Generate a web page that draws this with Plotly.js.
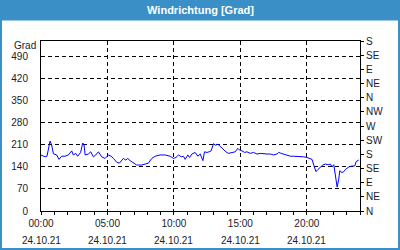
<!DOCTYPE html>
<html><head><meta charset="utf-8">
<script src="https://cdn.plot.ly/plotly-3.0.1.min.js"></script>
<style>html,body{margin:0;padding:0;background:#fff;}#chart{width:400px;height:250px;}</style>
</head><body><div id="chart"></div>
<script>
// hours since 00:00 on 24.10.21
const hours = [0.00,0.30,0.45,0.68,0.80,0.93,1.18,1.36,1.55,1.81,2.06,2.31,2.43,2.61,2.76,2.98,3.14,3.24,3.32,3.56,3.74,3.94,4.12,4.32,4.57,4.82,5.07,5.27,5.45,5.70,5.90,6.03,6.20,6.38,6.53,6.70,6.95,7.20,7.58,7.83,8.08,8.33,8.59,8.96,9.34,9.72,9.97,10.15,10.35,10.55,10.72,10.85,11.05,11.18,11.35,11.60,11.80,11.98,12.10,12.18,12.30,12.48,12.65,12.80,12.98,13.11,13.31,13.48,13.73,13.91,14.11,14.36,14.61,14.81,14.92,15.12,15.32,15.49,15.74,15.99,16.25,16.50,16.75,17.00,17.25,17.50,17.75,17.88,18.08,18.26,18.51,18.76,19.01,19.26,19.51,19.76,20.02,20.19,20.39,20.52,20.69,20.84,21.02,21.20,21.40,21.60,21.77,21.90,22.03,22.15,22.28,22.40,22.48,22.65,22.78,22.91,23.16,23.41,23.61,23.71,23.91];
const direction = [178,172,174,222,210,182,178,164,174,174,178,191,178,183,174,186,216,210,178,181,188,172,178,188,172,167,178,174,167,155,152,160,167,162,167,160,152,146,146,149,152,167,174,178,178,174,167,170,178,172,174,164,178,170,181,186,174,181,164,160,188,186,188,191,214,209,212,205,195,188,183,186,188,199,194,191,186,188,183,186,181,183,181,181,181,178,181,186,183,181,178,174,174,174,172,172,170,167,164,146,125,132,140,146,149,147,149,140,147,110,76,101,128,122,125,132,140,143,143,157,162];

const xTickVals = [0,5,10,15,20];
const xTickTime = ["00:00","05:00","10:00","15:00","20:00"];
const xTickDate = ["24.10.21","24.10.21","24.10.21","24.10.21","24.10.21"];
const yTickVals = [0,70,140,210,280,350,420,490];
const compassVals = [0,45,90,135,180,225,270,315,360,405,450,495,540];
const compassText = ["N","NE","E","SE","S","SW","W","NW","N","NE","E","SE","S"];

const FONT = "Liberation Sans, Arial, sans-serif";
const TXT = "#1a1a2a";
const BLUE = "#3a8fc7";

// pixel -> paper helpers (plot area: x 41..360, y 41..211)
const px = p => (p - 41) / 319;
const py = p => (211 - p) / 170;

const annotations = xTickVals.map((v, i) => ({
  x: v, xref: "x", y: py(240), yref: "paper", text: xTickDate[i],
  showarrow: false, font: {family: FONT, size: 10, color: TXT}, xanchor: "center", yanchor: "middle"
}));
annotations.push({x: px(38), xref: "paper", y: py(45), yref: "paper", text: "Grad", showarrow: false,
  font: {family: FONT, size: 10, color: TXT}, xanchor: "right", yanchor: "middle"});

const traces = [
  {x: hours, y: direction, type: "scatter", mode: "lines", line: {color: "#0000ff", width: 1}, hoverinfo: "skip", xaxis: "x", yaxis: "y"},
  {x: [0], y: [0], type: "scatter", mode: "markers", marker: {opacity: 0}, xaxis: "x", yaxis: "y2", hoverinfo: "skip"}
];

const layout = {
  width: 400, height: 250,
  margin: {l: 41, r: 40, t: 41, b: 39, pad: 0},
  paper_bgcolor: "#ffffff", plot_bgcolor: "#ffffff",
  showlegend: false,
  title: {text: "<b>Windrichtung [Grad]</b>", font: {family: FONT, size: 11, color: "#ffffff"},
          x: 0.5, xref: "paper", xanchor: "center", y: 1 - 10/250, yref: "container", yanchor: "middle"},
  xaxis: {
    range: [0, 24], tickmode: "array", tickvals: xTickVals, ticktext: xTickTime,
    ticks: "outside", ticklen: 3, tickcolor: "#000", tickwidth: 1,
    minor: {tickmode: "linear", tick0: 0, dtick: 1, ticks: "outside", ticklen: 3, tickcolor: "#000", showgrid: false},
    showgrid: true, gridcolor: "#000", gridwidth: 1, griddash: "4px,3px",
    showline: true, linecolor: "#000", linewidth: 1, mirror: true,
    zeroline: false, fixedrange: true,
    tickfont: {family: FONT, size: 10, color: TXT}
  },
  yaxis: {
    range: [0, 540], tickmode: "array", tickvals: yTickVals,
    ticks: "outside", ticklen: 10, tickcolor: "rgba(0,0,0,0)",
    showgrid: true, gridcolor: "#000", gridwidth: 1, griddash: "4px,3px",
    showline: true, linecolor: "#000", linewidth: 1, mirror: true,
    zeroline: false, fixedrange: true,
    tickfont: {family: FONT, size: 10, color: TXT}
  },
  yaxis2: {
    range: [0, 540], overlaying: "y", side: "right", anchor: "x",
    tickmode: "array", tickvals: compassVals, ticktext: compassText,
    ticks: "outside", ticklen: 3, tickcolor: "#000",
    showgrid: false, showline: true, linecolor: "#000", zeroline: false, fixedrange: true,
    tickfont: {family: FONT, size: 10, color: TXT}
  },
  shapes: [
    {type: "rect", xref: "paper", yref: "paper", x0: px(0), x1: px(400), y0: py(0), y1: py(20.5),
     fillcolor: BLUE, line: {width: 0}, layer: "below"},
    {type: "rect", xref: "paper", yref: "paper", x0: px(1), x1: px(399), y0: py(1), y1: py(249),
     fillcolor: "rgba(0,0,0,0)", line: {color: BLUE, width: 2}, layer: "below"}
  ],
  annotations: annotations
};

Plotly.newPlot("chart", traces, layout, {staticPlot: true, displayModeBar: false});
</script>
</body></html>
